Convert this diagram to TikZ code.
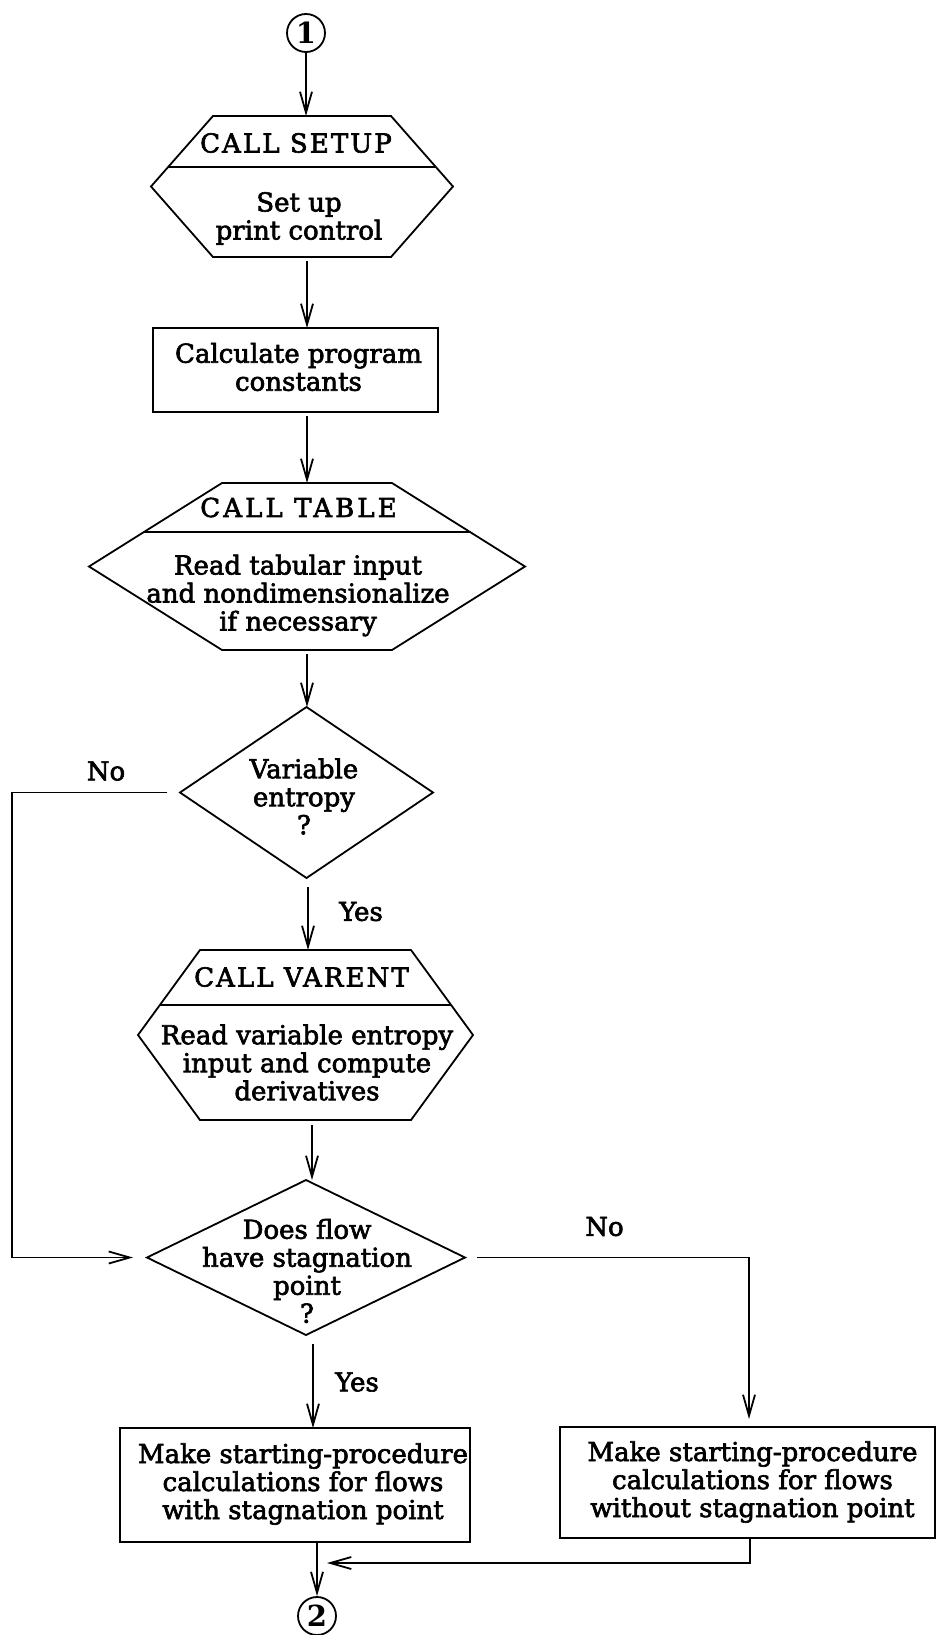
\documentclass[tikz,border=0pt]{standalone}
\usepackage{fontspec}
\setmainfont{DejaVu Serif}[UprightFeatures={FakeBold=2.4}]
\usetikzlibrary{arrows.meta,calc}

% hexagonal "CALL" block: node name, inset of top/bottom edge, divider position (fraction)
\newcommand\hexoutline[3]{%
  \draw[outline] ($(#1.north west)+(#2,0)$) coordinate (#1-a)
    -- ($(#1.north east)+(-#2,0)$) coordinate (#1-b)
    -- (#1.east) -- ($(#1.south east)+(-#2,0)$)
    -- ($(#1.south west)+(#2,0)$) -- (#1.west) -- cycle;
  \draw[outline] ($(#1-a)!#3!(#1.west)$) -- ($(#1-b)!#3!(#1.east)$);
}
% decision diamond drawn on a rectangular frame node
\newcommand\diamondoutline[1]{%
  \draw[outline] (#1.north) -- (#1.east) -- (#1.south) -- (#1.west) -- cycle;
}

\begin{document}
\begin{tikzpicture}[x=1pt,y=-1pt,
  outline/.style={draw, line width=1.8pt, line join=miter},
  frame/.style={inner sep=0pt, outer sep=0pt},
  procbox/.style={draw, line width=1.8pt, inner sep=0pt, outer sep=0pt},
  body/.style={align=center, font=\fontsize{26}{28}\selectfont, inner sep=0pt},
  head/.style={font=\fontsize{26}{28}\selectfont\addfontfeatures{LetterSpace=8}, inner sep=0pt},
  widehead/.style={font=\fontsize{26}{28}\selectfont\addfontfeatures{LetterSpace=12}, inner sep=0pt},
  lbl/.style={font=\fontsize{26}{28}\selectfont, inner sep=0pt},
  conn/.style={line width=1.8pt},
  arr/.style={conn, -{Straight Barb[length=21pt,width=12pt]}},
  term/.style={circle, draw, line width=1.8pt, minimum size=38pt, inner sep=0pt,
               font=\fontsize{29}{29}\selectfont\bfseries}
]
\useasboundingbox (0,0) rectangle (948,1635);

% connector 1
\node[term] (c1) at (306,33) {1};

% CALL SETUP
\node[frame, minimum width=302pt, minimum height=141pt] (setup) at (302,186.5) {};
\hexoutline{setup}{62}{0.72}
\node[head] (setup-h) at (296,143) {CALL SETUP};
\node[body] (setup-b) at (299,218.5) {Set up\\print control};

% program constants
\node[procbox, minimum width=285pt, minimum height=84pt] (calc) at (295.5,370) {};
\node[body] (calc-t) at (298.5,367) {Calculate program\\constants};

% CALL TABLE
\node[frame, minimum width=436pt, minimum height=167pt] (table) at (307,566.5) {};
\hexoutline{table}{133}{0.587}
\node[widehead] (table-h) at (298.5,507.5) {CALL TABLE};
\node[body] (table-b) at (298,595.5) {Read tabular input\\and nondimensionalize\\if necessary};

% variable entropy decision
\node[frame, minimum width=253pt, minimum height=171pt] (dec1) at (306.5,792.5) {};
\diamondoutline{dec1}
\node[body] (dec1-t) at (304,796.5) {Variable\\entropy\\?};

% CALL VARENT
\node[frame, minimum width=335pt, minimum height=170pt] (varent) at (305.5,1035) {};
\hexoutline{varent}{62}{0.65}
\node[head] (varent-h) at (301.5,977) {CALL VARENT};
\node[body] (varent-b) at (307,1062.5) {Read variable entropy\\input and compute\\derivatives};

% stagnation point decision
\node[frame, minimum width=318pt, minimum height=155pt] (dec2) at (306,1257.5) {};
\diamondoutline{dec2}
\node[body] (dec2-t) at (307,1271) {Does flow\\have stagnation\\point\\?};

% starting procedures
\node[procbox, minimum width=350pt, minimum height=114pt] (lbox) at (295,1485) {};
\node[body] (lbox-t) at (303,1484) {Make starting-procedure\\calculations for flows\\with stagnation point};
\node[procbox, minimum width=375pt, minimum height=111pt] (rbox) at (747.5,1482.5) {};
\node[body] (rbox-t) at (752.5,1482) {Make starting-procedure\\calculations for flows\\without stagnation point};

% connector 2
\node[term] (c2) at (317,1616) {2};

% branch labels
\node[lbl] (no1) at (106,771) {No};
\node[lbl] (yes1) at (361,911.5) {Yes};
\node[lbl] (no2) at (604.5,1226.5) {No};
\node[lbl] (yes2) at (357,1382) {Yes};

% arrow start points below each block
\coordinate (s2) at ($(setup.south)+(5,0)$);
\coordinate (s3) at ($(calc.south)+(11.5,0)$);
\coordinate (s4) at (table.south);
\coordinate (s5) at ($(dec1.south)+(1.5,0)$);
\coordinate (s6) at ($(varent.south)+(6.5,0)$);
\coordinate (s7) at ($(dec2.south)+(7,0)$);
\coordinate (s8) at ($(rbox.north)+(1.5,0)$);
\coordinate (s9) at ($(rbox.south)+(2.5,0)$);

% loop corners
\coordinate (noleft) at (12,792.5);
\coordinate (merge) at (317,1563);

% main flow
\draw[arr] (c1.south) -- (c1.south |- setup.north);
\draw[arr, shorten <=4pt] (s2) -- (s2 |- calc.north);
\draw[arr, shorten <=4pt] (s3) -- (s3 |- table.north);
\draw[arr, shorten <=4pt] (s4) -- (s4 |- dec1.north);
\draw[arr, shorten <=9pt] (s5) -- (s5 |- varent.north);
\draw[arr, shorten <=5pt] (s6) -- (s6 |- dec2.north);
\draw[arr, shorten <=9pt] (s7) -- (s7 |- lbox.north);
\draw[arr] (lbox.south -| c2) -- (c2.north);

% "No" branches
\draw[arr, shorten >=14pt] ($(dec1.west)+(-13,0)$) -- (noleft) |- (dec2.west);
\draw[arr, shorten <=12pt, shorten >=8pt] (dec2.east) -| (s8);
\draw[arr, shorten >=10pt] (s9) |- (merge);
\end{tikzpicture}
\end{document}
